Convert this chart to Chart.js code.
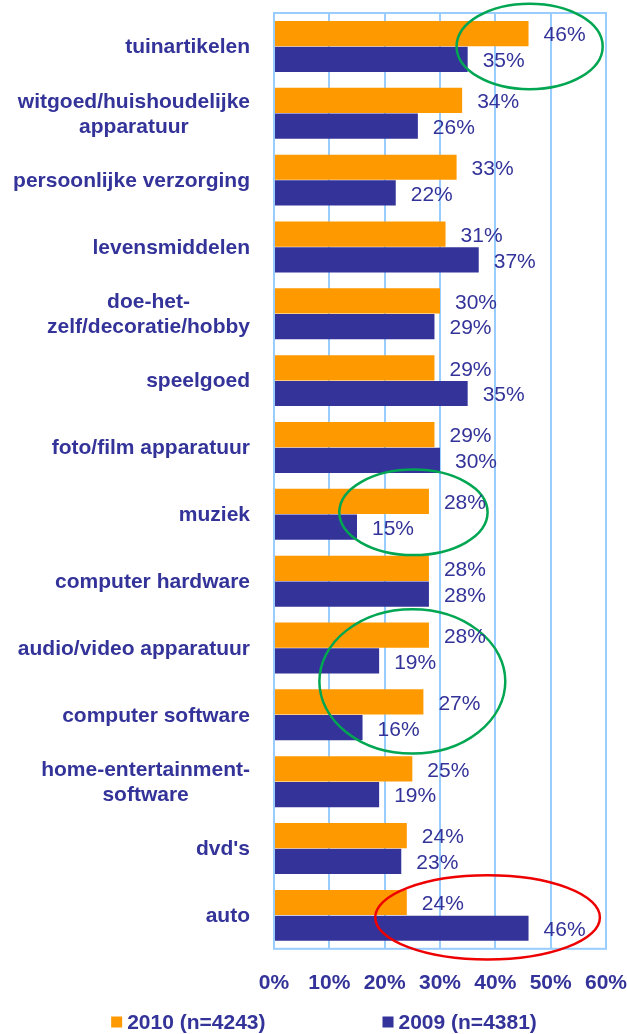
<!DOCTYPE html>
<html><head><meta charset="utf-8">
<script src="https://cdn.jsdelivr.net/npm/chart.js@4.4.1/dist/chart.umd.min.js"></script>
<style>html,body{margin:0;padding:0;background:#fff;} #wrap{width:627px;height:1034px;position:relative;}</style>
</head><body><div id="wrap"><canvas id="c"></canvas></div>
<script>
const categories = [["tuinartikelen"],["witgoed/huishoudelijke","apparatuur"],["persoonlijke verzorging"],["levensmiddelen"],["doe-het-","zelf/decoratie/hobby"],["speelgoed"],["foto/film apparatuur"],["muziek"],["computer hardware"],["audio/video apparatuur"],["computer software"],["home-entertainment-","software"],["dvd's"],["auto"]];
const values2010 = [46,34,33,31,30,29,29,28,28,28,27,25,24,24];
const values2009 = [35,26,22,37,29,35,30,15,28,19,16,19,23,46];
const xTicks = [0,10,20,30,40,50,60];
const seriesLabels = ["2010 (n=4243)","2009 (n=4381)"];

const NAVY = '#333399', ORANGE = '#ff9900', GRID = '#99ccff';
const FONT = 'Arial, "Liberation Sans", sans-serif';

// highlight ellipses, in data units (category index, percent)
const highlights = [
  {cat:0, value:46.2, rx:13.2, ry:0.64, color:'#00a651'},
  {cat:6.97, value:25.2, rx:13.4, ry:0.64, color:'#00a651'},
  {cat:9.5, value:25.0, rx:16.8, ry:1.08, color:'#00a651'},
  {cat:13.03, value:38.6, rx:20.3, ry:0.63, color:'#ee0000'}
];

const frame = {id:'frame', afterDatasetsDraw(chart){
  const a = chart.chartArea, ctx = chart.ctx;
  ctx.save(); ctx.strokeStyle = GRID; ctx.lineWidth = 2;
  ctx.strokeRect(a.left, a.top, a.right - a.left, a.bottom - a.top);
  ctx.restore();
}};

const valueLabels = {id:'valueLabels', afterDatasetsDraw(chart){
  const ctx = chart.ctx; ctx.save();
  ctx.font = '21px ' + FONT; ctx.fillStyle = NAVY; ctx.textAlign = 'left'; ctx.textBaseline = 'middle';
  chart.data.datasets.forEach((ds, di) => {
    chart.getDatasetMeta(di).data.forEach((el, i) => {
      ctx.fillText(ds.data[i] + '%', el.x + 15, el.y + 2);
    });
  });
  ctx.restore();
}};

const ellipses = {id:'ellipses', afterDatasetsDraw(chart){
  const ctx = chart.ctx, x = chart.scales.x, y = chart.scales.y;
  ctx.save(); ctx.lineWidth = 2.5;
  highlights.forEach(h => {
    const cx = x.getPixelForValue(h.value), cy = y.getPixelForValue(h.cat);
    const rx = x.getPixelForValue(h.value + h.rx) - cx;
    const ry = y.getPixelForValue(h.cat + h.ry) - cy;
    ctx.strokeStyle = h.color;
    ctx.beginPath(); ctx.ellipse(cx, cy, Math.abs(rx), Math.abs(ry), 0, 0, Math.PI*2); ctx.stroke();
  });
  ctx.restore();
}};

const catLabels = {id:'catLabels', afterDraw(chart){
  const ctx = chart.ctx, y = chart.scales.y;
  ctx.save(); ctx.font = 'bold 21px ' + FONT; ctx.fillStyle = NAVY;
  ctx.textAlign = 'center'; ctx.textBaseline = 'middle';
  const rightEdge = chart.chartArea.left - 24, lh = 25;
  chart.data.labels.forEach((lines, i) => {
    const w = Math.max(...lines.map(l => ctx.measureText(l).width));
    const cx = rightEdge - w/2;
    const cy = y.getPixelForValue(i) + 1;
    lines.forEach((l, k) => ctx.fillText(l, cx, cy + (k - (lines.length-1)/2) * lh));
  });
  ctx.restore();
}};

const legend = {id:'customLegend', afterDraw(chart){
  const ctx = chart.ctx; ctx.save();
  ctx.font = 'bold 21px ' + FONT; ctx.textBaseline = 'middle'; ctx.textAlign = 'left';
  const box = 11, gap = 5, spacing = 117, centerX = 324, cy = chart.height - 12;
  const items = chart.data.datasets.map(d => ({text:d.label, color:d.backgroundColor, w:ctx.measureText(d.label).width}));
  const total = items.reduce((s, it) => s + box + gap + it.w, 0) + spacing * (items.length - 1);
  let xx = centerX - total/2;
  items.forEach(it => {
    ctx.fillStyle = it.color; ctx.fillRect(xx, cy - box/2, box, box);
    ctx.fillStyle = NAVY; ctx.fillText(it.text, xx + box + gap, cy + 1);
    xx += box + gap + it.w + spacing;
  });
  ctx.restore();
}};

new Chart(document.getElementById('c'), {
  type: 'bar',
  data: {
    labels: categories,
    datasets: [
      {label: seriesLabels[0], data: values2010, backgroundColor: ORANGE, barPercentage: 0.98, categoryPercentage: 0.77},
      {label: seriesLabels[1], data: values2009, backgroundColor: NAVY, barPercentage: 0.98, categoryPercentage: 0.77}
    ]
  },
  options: {
    indexAxis: 'y', responsive: true, maintainAspectRatio: false, animation: false, devicePixelRatio: 1,
    layout: {padding: {top: 13, right: 0, bottom: 16, left: 0}},
    plugins: {legend: {display: false}, tooltip: {enabled: false}},
    scales: {
      x: {
        min: xTicks[0], max: xTicks[xTicks.length-1],
        afterBuildTicks: s => { s.ticks = xTicks.map(v => ({value: v})); },
        afterFit: s => { s.paddingRight = 21; },
        ticks: {callback: v => v + '%', color: NAVY, font: {family: FONT, size: 21, weight: 'bold'}, padding: 22, maxRotation: 0},
        grid: {color: GRID, lineWidth: 2, drawTicks: false},
        border: {display: false}
      },
      y: {
        ticks: {display: false},
        grid: {display: false},
        border: {display: false},
        afterFit: s => { s.width = 274; }
      }
    }
  },
  plugins: [frame, ellipses, valueLabels, catLabels, legend]
});
</script>
</body></html>
